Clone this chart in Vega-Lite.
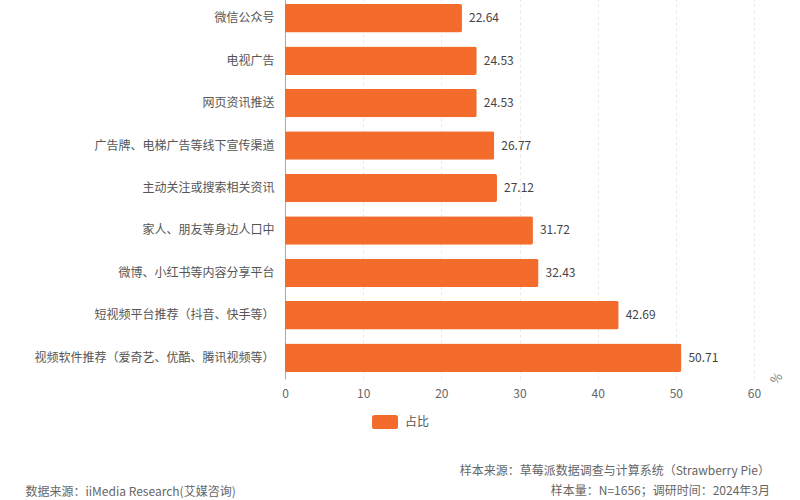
{
  "$schema": "https://vega.github.io/schema/vega-lite/v6.json",
  "width": 469,
  "height": 382,
  "autosize": {"type": "none"},
  "padding": {"left": 285, "top": -3, "right": 46, "bottom": 121},
  "background": "white",
  "config": {"font": "Noto Sans CJK SC", "view": {"stroke": null}},
  "title": {
    "text": ["样本来源：草莓派数据调查与计算系统（Strawberry Pie）", "样本量：N=1656；调研时间：2024年3月"],
    "orient": "top",
    "anchor": "end",
    "frame": "group",
    "align": "right",
    "fontSize": 12,
    "fontWeight": "normal",
    "color": "#666",
    "lineHeight": 20,
    "dx": 16,
    "dy": 505
  },
  "data": {
    "values": [
      {"渠道": "微信公众号", "占比": 22.64},
      {"渠道": "电视广告", "占比": 24.53},
      {"渠道": "网页资讯推送", "占比": 24.53},
      {"渠道": "广告牌、电梯广告等线下宣传渠道", "占比": 26.77},
      {"渠道": "主动关注或搜索相关资讯", "占比": 27.12},
      {"渠道": "家人、朋友等身边人口中", "占比": 31.72},
      {"渠道": "微博、小红书等内容分享平台", "占比": 32.43},
      {"渠道": "短视频平台推荐（抖音、快手等）", "占比": 42.69},
      {"渠道": "视频软件推荐（爱奇艺、优酷、腾讯视频等）", "占比": 50.71}
    ]
  },
  "encoding": {
    "y": {
      "field": "渠道",
      "type": "nominal",
      "sort": null,
      "scale": {"paddingInner": 0.33, "paddingOuter": 0.165},
      "axis": {
        "title": "%",
        "titleX": 491,
        "titleY": 381,
        "titleAngle": -50,
        "titleAlign": "center",
        "titleBaseline": "middle",
        "titleFontSize": 12,
        "titleFontWeight": "normal",
        "titleColor": "#777",
        "labelFontSize": 12,
        "labelColor": "#555",
        "labelPadding": 11,
        "labelLimit": 320,
        "ticks": false,
        "domainColor": "#aaa"
      }
    },
    "x": {
      "field": "占比",
      "type": "quantitative",
      "scale": {"domain": [0, 60], "nice": false},
      "axis": {
        "values": [0, 10, 20, 30, 40, 50, 60],
        "domain": false,
        "ticks": false,
        "labelFlush": false,
        "labelPadding": 9,
        "labelFontSize": 12,
        "labelColor": "#666",
        "gridDash": [3, 3],
        "gridColor": "#e8e8e8",
        "title": "数据来源：iiMedia Research(艾媒咨询)",
        "titleX": -260,
        "titleY": 112,
        "titleAlign": "left",
        "titleAnchor": "start",
        "titleBaseline": "middle",
        "titleFontSize": 12,
        "titleFontWeight": "normal",
        "titleColor": "#666"
      }
    }
  },
  "layer": [
    {
      "mark": {"type": "bar", "cornerRadiusEnd": 2},
      "encoding": {
        "color": {
          "datum": "占比",
          "scale": {"range": ["#F46C2C"]},
          "legend": {
            "title": null,
            "orient": "none",
            "legendX": 87,
            "legendY": 412,
            "symbolType": "M-0.8,-0.54 L0.8,-0.54 Q1,-0.54 1,-0.34 L1,0.34 Q1,0.54 0.8,0.54 L-0.8,0.54 Q-1,0.54 -1,0.34 L-1,-0.34 Q-1,-0.54 -0.8,-0.54 Z",
            "symbolSize": 676,
            "symbolStrokeWidth": 0,
            "symbolOpacity": 1,
            "labelFontSize": 12,
            "labelColor": "#555",
            "labelOffset": 7
          }
        }
      }
    },
    {
      "mark": {"type": "text", "align": "left", "baseline": "middle", "dx": 7, "fontSize": 12, "color": "#444"},
      "encoding": {"text": {"field": "占比", "type": "quantitative", "format": ".2f"}}
    }
  ]
}
